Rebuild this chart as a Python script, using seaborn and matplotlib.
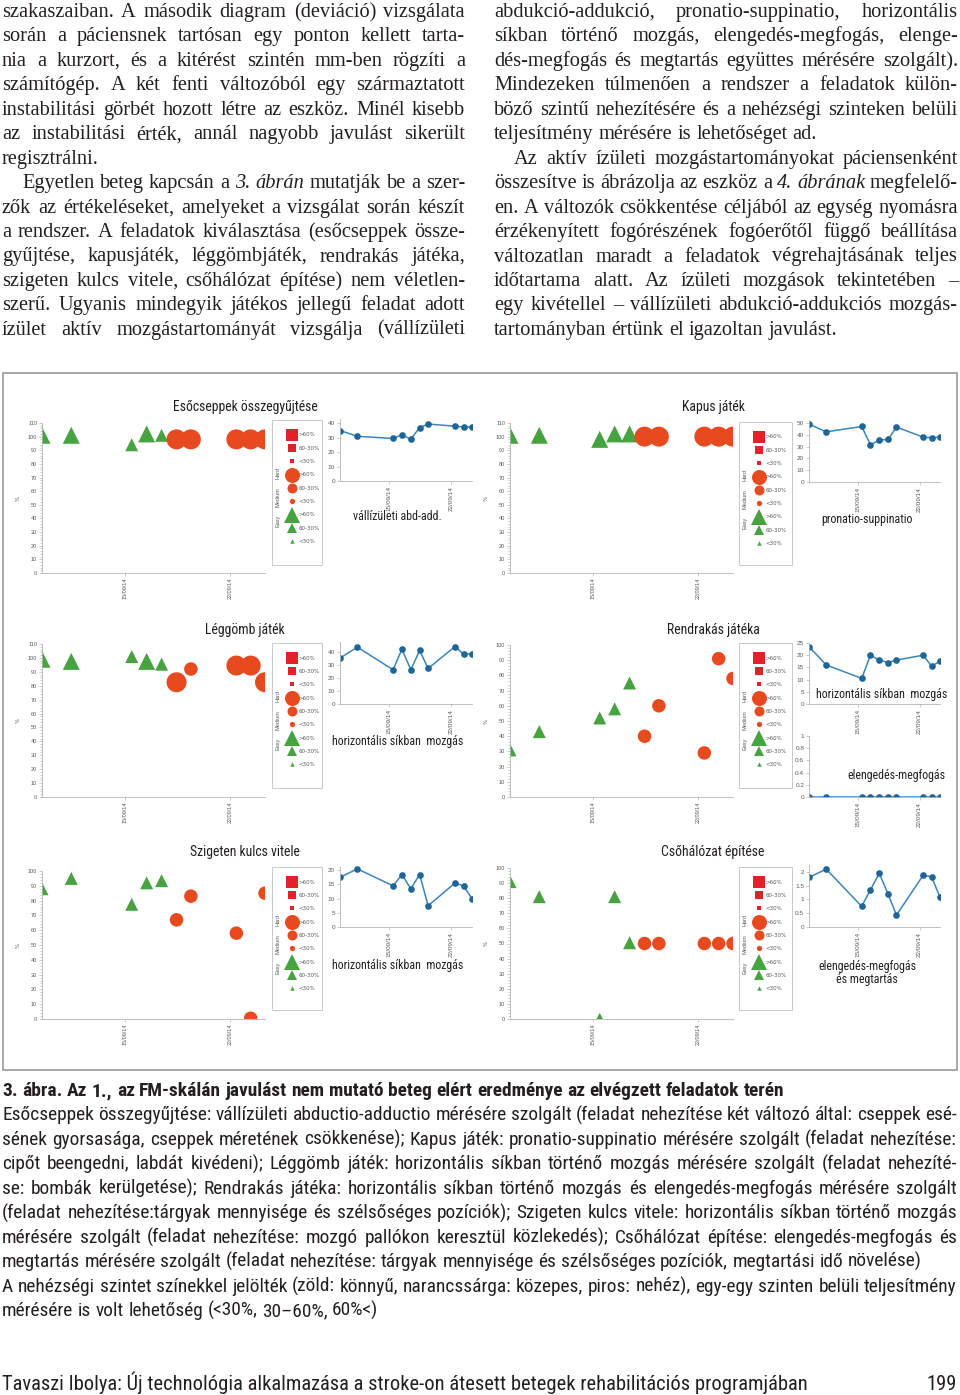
import matplotlib
matplotlib.use("Agg")
import matplotlib.pyplot as plt
import matplotlib.dates as mdates
from matplotlib.ticker import MultipleLocator, AutoMinorLocator, FuncFormatter
from matplotlib.lines import Line2D
from matplotlib.patches import Rectangle
from matplotlib import font_manager
import pandas as pd
import seaborn as sns

# -----------------------------------------------------------
# DATA
# -----------------------------------------------------------
session_dates = pd.to_datetime([
    "2014-09-09 10:00", "2014-09-11 09:00", "2014-09-15 10:00", "2014-09-16 10:00",
    "2014-09-17 10:00", "2014-09-18 10:00", "2014-09-19 09:00", "2014-09-22 10:00",
    "2014-09-23 09:00", "2014-09-24 08:00",
])
session_level = ["Easy", "Easy", "Easy", "Easy", "Easy",
                 "Medium", "Medium", "Medium", "Medium", "Medium"]

eso_score = [101, 101, 94, 102, 101, 98, 98, 98, 98, 98]
eso_perf = [">60%", ">60%", "60-30%", ">60%", "60-30%", ">60%", ">60%", ">60%", ">60%", ">60%"]
kapus_score = [101, 101, 98, 102, 102, 100, 100, 100, 100, 100]
kapus_perf = [">60%", ">60%", ">60%", ">60%", ">60%", ">60%", ">60%", ">60%", ">60%", ">60%"]
leggomb_score = [99, 97.5, 101, 97.5, 95.5, 82.5, 92, 94.5, 94.5, 82.5]
leggomb_perf = [">60%", ">60%", "60-30%", ">60%", "60-30%", ">60%", "60-30%", ">60%", ">60%", ">60%"]
rendrakas_score = [31, 43, 52, 58, 75, 40, 60, 29, 91, 78]
rendrakas_perf = ["60-30%", "60-30%", "60-30%", "60-30%", "60-30%",
                  "60-30%", "60-30%", "60-30%", "60-30%", "60-30%"]
sziget_score = [88, 95, 77.5, 92, 93.5, 67, 83, 58, 0.5, 85]
sziget_perf = ["60-30%", "60-30%", "60-30%", "60-30%", "60-30%",
               "60-30%", "60-30%", "60-30%", "60-30%", "60-30%"]
cso_score = [91, 81, 1.5, 81, 50.5, 50, 50, 50, 50, 50]
cso_perf = ["60-30%", "60-30%", "<30%", "60-30%", "60-30%",
            "60-30%", "60-30%", "60-30%", "60-30%", "60-30%"]

# joint range of motion curves
abd_add = [35, 31, 29.5, 32, 29, 37, 39.5, 38, 37.5, 37.5]
pronatio = [49, 42.5, 47, 31.5, 35.5, 36, 46.5, 38, 37.5, 38]
leggomb_horiz = [35.5, 44, 26.5, 42.5, 26.5, 41.5, 27.5, 44.5, 38.5, 39]
rendrakas_horiz = [23.5, 16, 10.5, 20, 18, 17, 18, 20, 15.5, 17.5]
rendrakas_grip = [0, 0, 0, 0, 0, 0, 0, 0, 0, 0]
sziget_horiz = [17.5, 20.5, 14.5, 18.5, 13.5, 18.5, 7.5, 15.5, 14.5, 10]
cso_grip_hold = [1.8, 2.1, 0.75, 1.35, 1.95, 1.2, 0.43, 1.88, 1.82, 1.08]

tick_dates = pd.to_datetime(["2014-09-15", "2014-09-22"])
legend_levels = ["Hard", "Medium", "Easy"]
legend_perf = [">60%", "60-30%", "<30%"]

body_left = [
    (0, True, "szakaszaiban. A második diagram (deviáció) vizsgálata"),
    (0, True, "során a páciensnek tartósan egy ponton kellett tarta-"),
    (0, True, "nia a kurzort, és a kitérést szintén mm-ben rögzíti a"),
    (0, True, "számítógép. A két fenti változóból egy származtatott"),
    (0, True, "instabilitási görbét hozott létre az eszköz. Minél kisebb"),
    (0, True, "az instabilitási érték, annál nagyobb javulást sikerült"),
    (0, False, "regisztrálni."),
    (20, True, "Egyetlen beteg kapcsán a *3.* *ábrán* mutatják be a szer-"),
    (0, True, "zők az értékeléseket, amelyeket a vizsgálat során készít"),
    (0, True, "a rendszer. A feladatok kiválasztása (esőcseppek össze-"),
    (0, True, "gyűjtése, kapusjáték, léggömbjáték, rendrakás játéka,"),
    (0, True, "szigeten kulcs vitele, csőhálózat építése) nem véletlen-"),
    (0, True, "szerű. Ugyanis mindegyik játékos jellegű feladat adott"),
    (0, True, "ízület aktív mozgástartományát vizsgálja (vállízületi"),
]
body_right = [
    (0, True, "abdukció-addukció, pronatio-suppinatio, horizontális"),
    (0, True, "síkban történő mozgás, elengedés-megfogás, elenge-"),
    (0, True, "dés-megfogás és megtartás együttes mérésére szolgált)."),
    (0, True, "Mindezeken túlmenően a rendszer a feladatok külön-"),
    (0, True, "böző szintű nehezítésére és a nehézségi szinteken belüli"),
    (0, False, "teljesítmény mérésére is lehetőséget ad."),
    (20, True, "Az aktív ízületi mozgástartományokat páciensenként"),
    (0, True, "összesítve is ábrázolja az eszköz a *4.* *ábrának* megfelelő-"),
    (0, True, "en. A változók csökkentése céljából az egység nyomásra"),
    (0, True, "érzékenyített fogórészének fogóerőtől függő beállítása"),
    (0, True, "változatlan maradt a feladatok végrehajtásának teljes"),
    (0, True, "időtartama alatt. Az ízületi mozgások tekintetében –"),
    (0, True, "egy kivétellel – vállízületi abdukció-addukciós mozgás-"),
    (0, False, "tartományban értünk el igazoltan javulást."),
]
caption_title = "3. ábra. Az 1., az FM-skálán javulást nem mutató beteg elért eredménye az elvégzett feladatok terén"
caption_lines = [
    (True, "Esőcseppek összegyűjtése: vállízületi abductio-adductio mérésére szolgált (feladat nehezítése két változó által: cseppek esé-"),
    (True, "sének gyorsasága, cseppek méretének csökkenése); Kapus játék: pronatio-suppinatio mérésére szolgált (feladat nehezítése:"),
    (True, "cipőt beengedni, labdát kivédeni); Léggömb játék: horizontális síkban történő mozgás mérésére szolgált (feladat nehezíté-"),
    (True, "se: bombák kerülgetése); Rendrakás játéka: horizontális síkban történő mozgás és elengedés-megfogás mérésére szolgált"),
    (True, "(feladat nehezítése:tárgyak mennyisége és szélsőséges pozíciók); Szigeten kulcs vitele: horizontális síkban történő mozgás"),
    (True, "mérésére szolgált (feladat nehezítése: mozgó pallókon keresztül közlekedés); Csőhálózat építése: elengedés-megfogás és"),
    (False, "megtartás mérésére szolgált (feladat nehezítése: tárgyak mennyisége és szélsőséges pozíciók, megtartási idő növelése)"),
    (True, "A nehézségi szintet színekkel jelölték (zöld: könnyű, narancssárga: közepes, piros: nehéz), egy-egy szinten belüli teljesítmény"),
    (False, "mérésére is volt lehetőség (<30%, 30–60%, 60%<)"),
]
footer_left = "Tavaszi Ibolya: Új technológia alkalmazása a stroke-on átesett betegek rehabilitációs programjában"
footer_right = "199"

# -----------------------------------------------------------
# STYLE
# -----------------------------------------------------------
sns.set_style("ticks")
plt.rcParams["font.family"] = ["DejaVu Sans"]

names = {f.name for f in font_manager.fontManager.ttflist}
SERIF = "Liberation Serif" if "Liberation Serif" in names else "DejaVu Serif"
if "Liberation Sans Narrow" in names:
    COND = "Liberation Sans Narrow"
elif "Roboto Condensed" in names:
    COND = "Roboto Condensed"
else:
    COND = "Liberation Sans"
SMALL = "Liberation Sans" if "Liberation Sans" in names else "DejaVu Sans"

GREEN = "#46a340"
ORANGE = "#e84a1f"
RED = "#e1222b"
LINE = "#3a86bb"
DOT = "#1f6597"
AXIS = "#b5b5b5"
TICKTXT = "#5a5a5a"
INK = "#231f20"

level_color = {"Easy": GREEN, "Medium": ORANGE, "Hard": RED}
level_marker = {"Easy": "^", "Medium": "o", "Hard": "s"}
# marker widths in pixels for the scatter points
point_px = {"Easy": {">60%": 17, "60-30%": 13, "<30%": 8},
            "Medium": {">60%": 20, "60-30%": 13.5, "<30%": 8},
            "Hard": {">60%": 16, "60-30%": 11, "<30%": 7}}
# legend marker sizes (points)
legend_ms = {"Hard": [8.6, 5.2, 2.6], "Medium": [10.8, 7.2, 3.8], "Easy": [11.0, 7.2, 3.2]}

W, H = 960, 1395
fig = plt.figure(figsize=(W / 100, H / 100), dpi=100)
fig.patch.set_facecolor("white")
renderer = fig.canvas.get_renderer()


def add_px_axes(left, top, right, bottom):
    return fig.add_axes([left / W, 1 - bottom / H, (right - left) / W, (bottom - top) / H])


def text_width(s, size, family, weight="normal", style="normal"):
    t = fig.text(0, 0, s, fontsize=size, family=family, weight=weight, style=style)
    w = t.get_window_extent(renderer).width
    t.remove()
    return w


def fit_size(samples, family, target, weight="normal"):
    widest = max(text_width(s.replace("*", ""), 10, family, weight) for s in samples)
    return 10 * target / widest


def put_line(line, x0, x1, base, size, family, weight="normal", justify=True):
    objs, widths = [], []
    for tok in line.split(" "):
        style = "normal"
        if tok.startswith("*"):
            tok, style = tok.strip("*"), "italic"
        t = fig.text(0, 0, tok, fontsize=size, family=family, weight=weight,
                     style=style, color=INK, va="baseline", ha="left")
        objs.append(t)
        widths.append(t.get_window_extent(renderer).width)
    gap = text_width("n n", size, family, weight) - text_width("nn", size, family, weight)
    if justify and len(objs) > 1:
        gap = (x1 - x0 - sum(widths)) / (len(objs) - 1)
    x = x0
    for t, w in zip(objs, widths):
        t.set_position((x / W, 1 - base / H))
        x += w + gap


# -----------------------------------------------------------
# BODY TEXT (two justified columns)
# -----------------------------------------------------------
just_lines = [t for ind, j, t in body_left + body_right if j and ind == 0]
body_size = fit_size(just_lines, SERIF, 462)
for lines, x0, x1 in [(body_left, 2, 465), (body_right, 494, 958)]:
    for i, (indent, just, txt) in enumerate(lines):
        put_line(txt, x0 + indent, x1, 17 + 24.45 * i, body_size, SERIF, justify=just)

# -----------------------------------------------------------
# FIGURE FRAME
# -----------------------------------------------------------
fig.patches.append(Rectangle((3 / W, 1 - 1070 / H), 954 / W, 697 / H, transform=fig.transFigure,
                             fill=False, edgecolor="#8f8f8f", linewidth=1.1))

title_size = fit_size(["Esőcseppek összegyűjtése"], COND, 144)
label_size = fit_size(["vállízületi abd-add."], COND, 88)

COLS = [dict(main=(42, 265), box=(272, 322), line=(340, 472), title_x=245),
        dict(main=(510, 733), box=(739, 792), line=(809, 940), title_x=713)]

panels = [
    dict(title="Esőcseppek összegyűjtése", score=eso_score, perf=eso_perf, col=0,
         main=(423, 573, 110), box=(420, 565), title_y=407,
         lines=[dict(values=abd_add, label="vállízületi abd-add.", ax=(419, 481, 43, 10), pos=(397, 517))]),
    dict(title="Kapus játék", score=kapus_score, perf=kapus_perf, col=1,
         main=(423, 573, 110), box=(422, 565), title_y=407,
         lines=[dict(values=pronatio, label="pronatio-suppinatio", ax=(420, 482, 52.5, 10), pos=(867, 519))]),
    dict(title="Léggömb játék", score=leggomb_score, perf=leggomb_perf, col=0,
         main=(644, 797, 110), box=(643, 788), title_y=630,
         lines=[dict(values=leggomb_horiz, label="horizontális síkban  mozgás", ax=(642, 704, 48, 10), pos=(398, 742))]),
    dict(title="Rendrakás játéka", score=rendrakas_score, perf=rendrakas_perf, col=1,
         main=(645, 797, 100), box=(643, 788), title_y=630,
         lines=[dict(values=rendrakas_horiz, label="horizontális síkban  mozgás", ax=(643, 704, 25, 5), pos=(882, 695)),
                dict(values=rendrakas_grip, label="elengedés-megfogás", ax=(736, 797, 1, 0.2), pos=(896, 776))]),
    dict(title="Szigeten kulcs vitele", score=sziget_score, perf=sziget_perf, col=0,
         main=(871, 1019, 100), box=(867, 1010), title_y=852,
         lines=[dict(values=sziget_horiz, label="horizontális síkban  mozgás", ax=(866, 927, 21.5, 5), pos=(398, 965))]),
    dict(title="Csőhálózat építése", score=cso_score, perf=cso_perf, col=1,
         main=(868, 1019, 100), box=(867, 1010), title_y=852,
         lines=[dict(values=cso_grip_hold, label="elengedés-megfogás\nés megtartás", ax=(865, 927, 2.25, 0.5), pos=(867, 973))]),
]


def style_axes(ax, size):
    sns.despine(ax=ax)
    for side in ["left", "bottom"]:
        ax.spines[side].set_color(AXIS)
        ax.spines[side].set_linewidth(0.6)
    ax.tick_params(axis="both", which="both", color=AXIS, width=0.5, labelsize=size,
                   labelcolor=TICKTXT, length=2, pad=1.5)
    ax.tick_params(axis="y", which="minor", length=1.1)
    ax.set_xlim(session_dates[0], session_dates[-1])
    ax.set_xticks(tick_dates)
    ax.xaxis.set_major_formatter(mdates.DateFormatter("%d/%m/%y"))
    for lab in ax.get_xticklabels():
        lab.set_rotation(90)
        lab.set_family(SMALL)
    for lab in ax.get_yticklabels():
        lab.set_family(SMALL)
    ax.set_xlabel("")
    ax.set_facecolor("white")


for p in panels:
    c = COLS[p["col"]]
    top, bottom, ymax = p["main"]

    # ---------------- scatter of game results ----------------
    df = pd.DataFrame({"date": session_dates, "score": p["score"],
                       "level": session_level, "perf": p["perf"]})
    df["key"] = df["level"] + " " + df["perf"]
    used = sorted(df["level"].unique())
    sizes = {f"{lv} {pf}": (point_px[lv][pf] * 0.72) ** 2 for lv in used for pf in legend_perf}
    sizes = {k: v for k, v in sizes.items() if k in set(df["key"])}
    ax = add_px_axes(c["main"][0], top, c["main"][1], bottom)
    sns.scatterplot(data=df, x="date", y="score", hue="level", style="level", size="key",
                    palette={lv: level_color[lv] for lv in used},
                    markers={lv: level_marker[lv] for lv in used},
                    sizes=sizes, linewidth=0, legend=False, ax=ax)
    ax.set_ylim(0, ymax)
    ax.yaxis.set_major_locator(MultipleLocator(10))
    ax.yaxis.set_minor_locator(AutoMinorLocator(5))
    style_axes(ax, 4)
    ax.set_ylabel("%", fontsize=4, color=TICKTXT, labelpad=5)

    fig.text(c["title_x"] / W, 1 - p["title_y"] / H, p["title"], fontsize=title_size,
             family=COND, color=INK, ha="center", va="center")

    # ---------------- legend ----------------
    bl, br = c["box"]
    bt, bb = p["box"]
    fig.patches.append(Rectangle((bl / W, 1 - bb / H), (br - bl) / W, (bb - bt) / H,
                                 transform=fig.transFigure, fill=False,
                                 edgecolor="#c9c9c9", linewidth=0.7))
    handles, labels = [], []
    for lv in legend_levels:
        for ms, pf in zip(legend_ms[lv], legend_perf):
            handles.append(Line2D([], [], ls="none", marker=level_marker[lv], markersize=ms,
                                  markerfacecolor=level_color[lv], markeredgewidth=0))
            labels.append(pf)
    fig.legend(handles, labels, loc="upper left", bbox_to_anchor=((bl + 14) / W, 1 - (bt + 12.5) / H),
               frameon=False, fontsize=4, handlelength=2, handletextpad=0.3, labelspacing=1.5,
               borderpad=0, borderaxespad=0, labelcolor=TICKTXT)
    for lv, dy in zip(legend_levels, [53, 77, 101]):
        fig.text((bl + 6) / W, 1 - (bt + dy) / H, lv, fontsize=4, rotation=90,
                 color=TICKTXT, ha="center", va="center", family=SMALL)

    # ---------------- joint range of motion curves ----------------
    for ln in p["lines"]:
        lt, lb, lymax, step = ln["ax"]
        lax = add_px_axes(c["line"][0], lt, c["line"][1], lb)
        sns.lineplot(x=session_dates, y=ln["values"], ax=lax, color=LINE, linewidth=1.1,
                     marker="o", markersize=4.8, markerfacecolor=DOT, markeredgewidth=0)
        lax.set_ylim(0, lymax)
        lax.yaxis.set_major_locator(MultipleLocator(step))
        lax.yaxis.set_major_formatter(FuncFormatter(lambda v, pos: f"{v:g}"))
        style_axes(lax, 4.6)
        lax.set_ylabel("")
        fig.text(ln["pos"][0] / W, 1 - ln["pos"][1] / H, ln["label"], fontsize=label_size,
                 family=COND, color=INK, ha="center", va="center", linespacing=1.05)

# -----------------------------------------------------------
# CAPTION + FOOTER
# -----------------------------------------------------------
cap_size = fit_size([t for j, t in caption_lines if j], COND, 950)
put_line(caption_title, 2, 957, 1096, cap_size, COND, weight="bold", justify=False)
for i, (just, txt) in enumerate(caption_lines):
    put_line(txt, 2, 957, 1096 + 24.45 * (i + 1), cap_size, COND, justify=just)

foot_size = fit_size([footer_left], COND, 798)
fig.text(2 / W, 1 - 1390 / H, footer_left, fontsize=foot_size, family=COND, color=INK, va="baseline")
fig.text(957 / W, 1 - 1390 / H, footer_right, fontsize=foot_size, family=COND, color=INK,
         va="baseline", ha="right")

fig.savefig("out.png", dpi=100, facecolor="white")
plt.close(fig)
